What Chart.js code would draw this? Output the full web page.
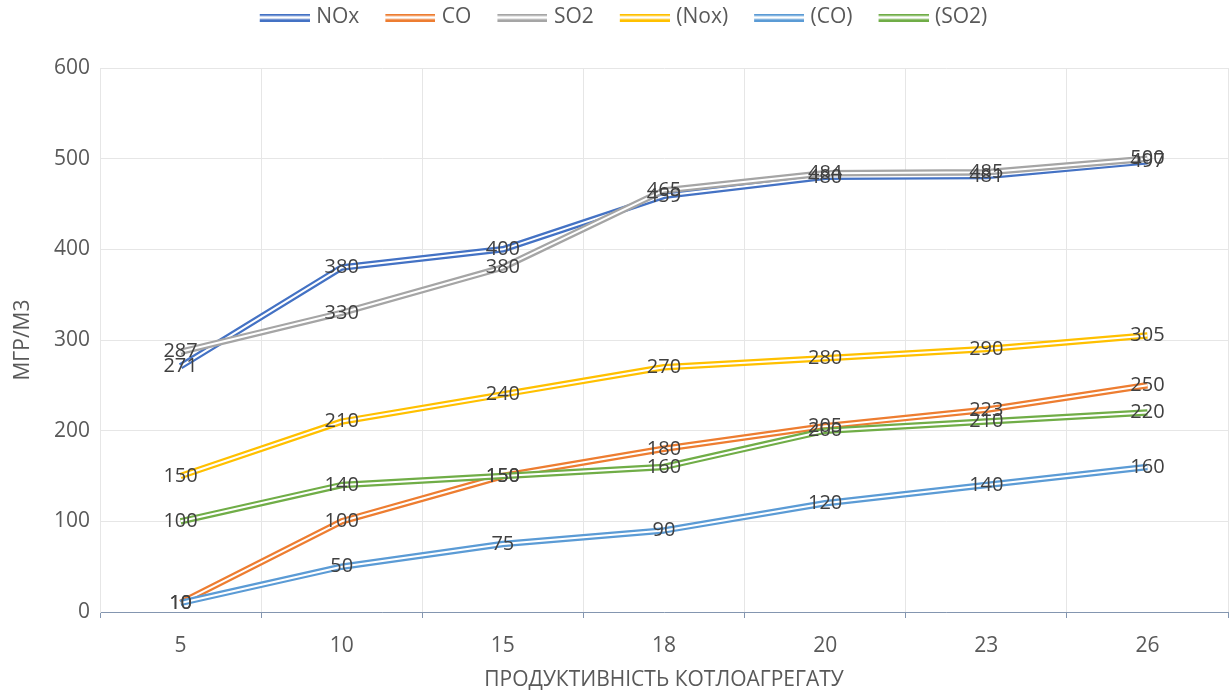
<!DOCTYPE html>
<html>
<head>
<meta charset="utf-8">
<script src="https://cdn.jsdelivr.net/npm/chart.js@4"></script>
<style>
  html, body { margin: 0; padding: 0; background: #ffffff; }
  #wrap { width: 1231px; height: 698px; }
</style>
</head>
<body>
<div id="wrap"><canvas id="chart" width="1231" height="698"></canvas></div>
<script>
// Boiler output (categories) and emission concentrations, mg/m3
const categories = ['5', '10', '15', '18', '20', '23', '26'];
const seriesNames = ['NOx', 'CO', 'SO2', '(Nox)', '(CO)', '(SO2)'];
const noxValues    = [271, 380, 400, 459, 480, 481, 497];
const coValues     = [10, 100, 150, 180, 205, 223, 250];
const so2Values    = [287, 330, 380, 465, 484, 485, 500];
const noxAltValues = [150, 210, 240, 270, 280, 290, 305];
const coAltValues  = [10, 50, 75, 90, 120, 140, 160];
const so2AltValues = [100, 140, 150, 160, 200, 210, 220];
const yTicks = [0, 100, 200, 300, 400, 500, 600];

const seriesValues = [noxValues, coValues, so2Values, noxAltValues, coAltValues, so2AltValues];
const seriesColors = ['#4472C4', '#ED7D31', '#A5A5A5', '#FFC000', '#5B9BD5', '#70AD47'];

const FONT = '"Open Sans", "Noto Sans", sans-serif';
const AXIS_SIZE = 21;
const OUTER = 6.5; // total width of a double line
const GAP = 2;     // white gap between the two strokes

// Legend marker: a 50px double line, right-aligned in a wider transparent canvas
const MARK_CANVAS = 73;
function legendMarker(color) {
  const c = document.createElement('canvas');
  c.width = MARK_CANVAS; c.height = 8;
  const g = c.getContext('2d');
  g.fillStyle = color;
  g.fillRect(MARK_CANVAS - 50, 0, 50, 2.5);
  g.fillRect(MARK_CANVAS - 50, 5.5, 50, 2.5);
  return c;
}

// Paints a white stroke down the middle of each line to give the double-line look
const doubleLine = {
  id: 'doubleLine',
  afterDatasetDraw(chart, args) {
    const pts = args.meta.data;
    if (!pts.length) return;
    const ctx = chart.ctx;
    ctx.save();
    ctx.beginPath();
    ctx.moveTo(pts[0].x, pts[0].y);
    for (let i = 1; i < pts.length; i++) ctx.lineTo(pts[i].x, pts[i].y);
    ctx.strokeStyle = '#ffffff';
    ctx.lineWidth = GAP;
    ctx.lineJoin = 'round';
    ctx.lineCap = 'butt';
    ctx.stroke();
    ctx.restore();
  }
};

// Value labels centred on each point
const valueLabels = {
  id: 'valueLabels',
  afterDatasetsDraw(chart) {
    const ctx = chart.ctx;
    ctx.save();
    ctx.font = '20px ' + FONT;
    ctx.fillStyle = '#404040';
    ctx.textAlign = 'center';
    ctx.textBaseline = 'middle';
    chart.data.datasets.forEach((ds, di) => {
      const meta = chart.getDatasetMeta(di);
      meta.data.forEach((pt, i) => {
        ctx.fillText(String(ds.data[i]), pt.x, pt.y);
      });
    });
    ctx.restore();
  }
};

// Reserve a fixed band for the legend above the plot
const legendBand = {
  id: 'legendBand',
  beforeLayout(chart) {
    const lg = chart.legend;
    if (lg && !lg._bandPatched) {
      const fit = lg.fit.bind(lg);
      lg.fit = function () { fit(); this.height = 68; };
      lg._bandPatched = true;
    }
  }
};

const datasets = seriesNames.map((name, i) => ({
  label: name,
  data: seriesValues[i],
  borderColor: seriesColors[i],
  backgroundColor: seriesColors[i],
  borderWidth: OUTER,
  borderJoinStyle: 'round',
  borderCapStyle: 'butt',
  pointRadius: 0,
  pointHoverRadius: 0,
  pointStyle: legendMarker(seriesColors[i]),
  tension: 0,
  fill: false,
  order: seriesNames.length - i
}));

new Chart(document.getElementById('chart'), {
  type: 'line',
  data: { labels: categories, datasets },
  plugins: [legendBand, doubleLine, valueLabels],
  options: {
    responsive: false,
    animation: false,
    events: [],
    layout: { padding: { top: 0, right: 3, bottom: 0, left: 0 } },
    plugins: {
      tooltip: { enabled: false },
      legend: {
        position: 'top',
        labels: {
          usePointStyle: true,
          pointStyleWidth: MARK_CANVAS - 8,
          padding: 7,
          color: '#595959',
          font: { family: FONT, size: AXIS_SIZE },
          sort: (a, b) => a.datasetIndex - b.datasetIndex
        }
      }
    },
    scales: {
      x: {
        type: 'category',
        offset: true,
        grid: {
          offset: true,
          color: '#e6e6e6',
          lineWidth: 1,
          drawTicks: true,
          tickLength: 6,
          tickColor: '#8496b0'
        },
        border: { display: true, color: '#8496b0', width: 1 },
        ticks: { color: '#595959', font: { family: FONT, size: AXIS_SIZE }, padding: 15, maxRotation: 0 },
        title: {
          display: true,
          text: 'ПРОДУКТИВНІСТЬ КОТЛОАГРЕГАТУ',
          color: '#595959',
          font: { family: FONT, size: AXIS_SIZE },
          padding: { top: 4, bottom: 5 }
        },
        afterFit(scale) { scale.height = 86; }
      },
      y: {
        type: 'linear',
        min: yTicks[0],
        max: yTicks[yTicks.length - 1],
        afterBuildTicks(scale) { scale.ticks = yTicks.map(v => ({ value: v })); },
        grid: { color: '#e6e6e6', lineWidth: 1, drawTicks: false },
        border: { display: true, color: '#e6e6e6' },
        ticks: { color: '#595959', font: { family: FONT, size: AXIS_SIZE }, padding: 10 },
        title: {
          display: true,
          text: 'МГР/М3',
          color: '#595959',
          font: { family: FONT, size: AXIS_SIZE },
          padding: { top: 10, bottom: 0 }
        },
        afterFit(scale) { scale.width = 100; }
      }
    }
  }
});
</script>
</body>
</html>
